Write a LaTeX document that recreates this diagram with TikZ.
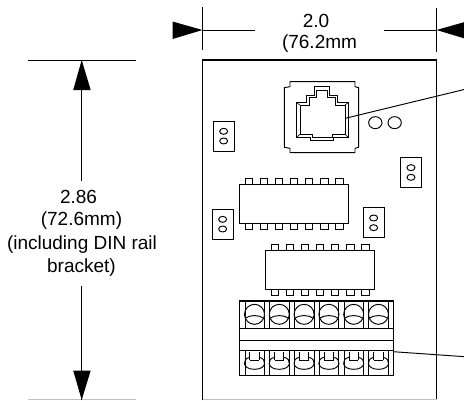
\documentclass[tikz,border=0pt]{standalone}
\usepackage{fontspec}
\setmainfont{Liberation Sans}
\tikzset{
 ln/.style={draw=black,line width=0.95pt},
 thin ln/.style={draw=black,line width=0.9pt},
 dimhead/.style={fill=black,draw=none},
 lbl/.style={font=\fontsize{19}{24}\selectfont,align=center,inner sep=0pt},
 pin/.style={draw=black,line width=0.95pt},
}
\newcommand{\hdr}[2]{%
 \draw[ln] (#1,#2) rectangle ++(63,90);
 \draw[ln] (#1+31,#2+31) ellipse (12 and 9);
 \draw[ln] (#1+31,#2+60) ellipse (12 and 9);}
\newcommand{\dipchip}[2]{%
 \draw[ln,line width=1.1pt] (#1,#2) rectangle ++(327,116);
 \foreach \k in {0,...,6}{
  \draw[pin] (#1+16+\k*45.2,#2) -- ++(0,-18) -- ++(23,0) -- ++(0,18);
  \draw[pin] (#1+16+\k*45.2,#2+116) -- ++(0,18) -- ++(23,0) -- ++(0,-18);}}
\begin{document}
\begin{tikzpicture}[x=1pt,y=-1pt]
\useasboundingbox (0,0) rectangle (464,400);
\clip (0,0) rectangle (464,400);
% board
\draw[ln,line width=1.1pt] (202.5,400) -- (202.5,60) -- (436.5,60) -- (436.5,400);
\draw[draw=black!25,line width=1pt] (202.5,399.6) -- (436.5,399.6);
% horizontal dimension
\coordinate (hl) at (202.5,30); \coordinate (hr) at (436.5,30);
\draw[thin ln] (202.5,7) -- (202.5,50);
\draw[thin ln] (436.5,8) -- (436.5,52);
\draw[ln] (hl) -- (255,30);
\draw[ln] (384,30) -- (hr);
\fill[dimhead] (hl) -- (172.5,21.5) -- (172.5,39) -- cycle;
\fill[dimhead] (hr) -- (466.5,21.5) -- (466.5,39) -- cycle;
\node[lbl] (wa) at (316,20.5) {2.0};
\node[lbl] (wb) at (319.5,44) {(76.2mm};
% vertical dimension
\coordinate (vt) at (81.7,60); \coordinate (vb) at (81.7,400);
\draw[ln] (28,60) -- (136,60);
\draw[draw=black!25,line width=1pt] (28,399.6) -- (136,399.6);
\fill[dimhead] (vt) -- (73.2,90) -- (90.7,90) -- cycle;
\fill[dimhead] (vb) -- (73.2,370.5) -- (90.7,370.5) -- cycle;
\draw[ln] (vt) -- (81.7,180.7);
\draw[ln] (81.7,286) -- (vb);
\node[lbl] (ha) at (78.5,197) {2.86};
\node[lbl] (hb) at (81.5,220.7) {(72.6mm)};
\node[lbl] (hc) at (82,244.5) {(including DIN rail};
\node[lbl] (hd) at (81.5,267.5) {bracket)};
% parts in zoom coordinates
\begin{scope}[shift={(200,50)},x=0.3333pt,y=-0.3333pt]
% jack
\draw[ln,line join=round] (270,95) -- (465,95) -- (465,110) -- (476,113) -- (476,292) -- (465,295) -- (465,308) -- (270,308) -- (270,295) -- (253,292) -- (253,113) -- (270,110) -- cycle;
\draw[ln] (288,157) -- (320,157) -- (320,135) -- (344,135) -- (344,110) -- (387,110) -- (387,135) -- (412,135) -- (412,157) -- (446,157) -- (446,263) -- (400,263) -- (400,272) -- (332,272) -- (332,263) -- (288,263) -- cycle;
\draw[ln,line width=0.8pt] (300,165) -- (328,165) -- (328,143) -- (350,143) -- (350,122) -- (383,122) -- (383,143) -- (405,143) -- (405,165) -- (435,165) -- (435,253) -- (398,253) -- (398,262) -- (338,262) -- (338,253) -- (300,253) -- cycle;
\draw[ln,line width=0.6pt] (288,263) -- (300,253) (446,263) -- (435,253) (446,157) -- (435,165) (288,157) -- (300,165);
\draw[ln] (526,218) ellipse (20 and 18);
\draw[ln] (584,218) ellipse (20 and 18);
\hdr{40}{213}
\hdr{602}{322}
\end{scope}
\begin{scope}[shift={(200,170)},x=0.3333pt,y=-0.3333pt]
\hdr{37}{117}
\hdr{490}{113}
\dipchip{119}{44}
\dipchip{197}{242}
% terminal block
\draw[ln,line width=1.1pt] (119,393) rectangle (580,616);
\draw[ln] (119,475) -- (580,475);
\draw[ln,line width=1.5pt] (119,512) -- (580,512);
\draw[ln] (119,542) -- (580,542);
\foreach \X in {137,193,208,267,282,342,357,416,432,490,505,564}{
 \draw[ln] (\X,393) -- (\X,475);
 \draw[ln] (\X,542) -- (\X,616);}
\foreach \k in {0,...,5}{
 \pgfmathsetmacro{\cx}{163.5+\k*74.4}
 \draw[ln] (\cx,433) circle (30);
 \draw[ln] (\cx-28,445) .. controls (\cx-15,434) and (\cx+15,434) .. (\cx+28,445);
 \draw[ln] (\cx-14,545) -- (\cx-14,570) (\cx+14,545) -- (\cx+14,570);
 \draw[ln] (\cx-14,562) .. controls (\cx-38,566) and (\cx-38,598) .. (\cx,598) .. controls (\cx+38,598) and (\cx+38,566) .. (\cx+14,562);
 \draw[ln] (\cx-14,570) -- (\cx+14,570);
}
\end{scope}
% leaders
\coordinate (la) at (345.3,118.3); \coordinate (lae) at (465,89.3);
\coordinate (lb) at (393.3,351.7); \coordinate (lbe) at (465,356.7);
\draw[ln] (la) -- (lae);
\draw[ln] (lb) -- (lbe);
\end{tikzpicture}
\end{document}
